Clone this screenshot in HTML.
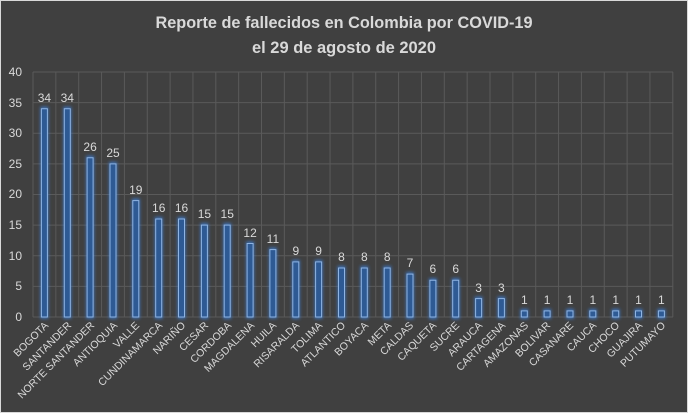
<!DOCTYPE html>
<html><head><meta charset="utf-8"><style>
html,body{margin:0;padding:0;background:#404040;}
svg{display:block;font-family:"Liberation Sans",sans-serif;}
</style></head><body>
<svg width="688" height="413" viewBox="0 0 688 413" xmlns="http://www.w3.org/2000/svg">
<defs><filter id="g" x="-100%" y="-20%" width="300%" height="140%"><feGaussianBlur stdDeviation="1.6"/></filter></defs>
<rect x="0" y="0" width="688" height="413" fill="#404040"/>
<rect x="0.5" y="0.5" width="687" height="412" fill="none" stroke="#d9d9d9" stroke-width="1"/>
<text x="344" y="28" text-anchor="middle" font-size="17" font-weight="bold" fill="#d9d9d9" textLength="377" lengthAdjust="spacingAndGlyphs">Reporte de fallecidos en Colombia por COVID-19</text>
<text x="344" y="53" text-anchor="middle" font-size="17" font-weight="bold" fill="#d9d9d9" textLength="184" lengthAdjust="spacingAndGlyphs">el 29 de agosto de 2020</text>
<g stroke="#5a5a5a" stroke-width="1">
<line x1="33" y1="72" x2="673" y2="72"/><line x1="33" y1="102.6" x2="673" y2="102.6"/><line x1="33" y1="133.25" x2="673" y2="133.25"/><line x1="33" y1="163.9" x2="673" y2="163.9"/><line x1="33" y1="194.5" x2="673" y2="194.5"/><line x1="33" y1="225.1" x2="673" y2="225.1"/><line x1="33" y1="255.75" x2="673" y2="255.75"/><line x1="33" y1="286.4" x2="673" y2="286.4"/><line x1="33" y1="317" x2="673" y2="317"/>
<line x1="33" y1="72" x2="33" y2="317"/><line x1="55.85" y1="72" x2="55.85" y2="317"/><line x1="78.7" y1="72" x2="78.7" y2="317"/><line x1="101.55" y1="72" x2="101.55" y2="317"/><line x1="124.4" y1="72" x2="124.4" y2="317"/><line x1="147.25" y1="72" x2="147.25" y2="317"/><line x1="170.1" y1="72" x2="170.1" y2="317"/><line x1="192.95" y1="72" x2="192.95" y2="317"/><line x1="215.8" y1="72" x2="215.8" y2="317"/><line x1="238.65" y1="72" x2="238.65" y2="317"/><line x1="261.5" y1="72" x2="261.5" y2="317"/><line x1="284.35" y1="72" x2="284.35" y2="317"/><line x1="307.2" y1="72" x2="307.2" y2="317"/><line x1="330.05" y1="72" x2="330.05" y2="317"/><line x1="352.9" y1="72" x2="352.9" y2="317"/><line x1="375.75" y1="72" x2="375.75" y2="317"/><line x1="398.6" y1="72" x2="398.6" y2="317"/><line x1="421.45" y1="72" x2="421.45" y2="317"/><line x1="444.3" y1="72" x2="444.3" y2="317"/><line x1="467.15" y1="72" x2="467.15" y2="317"/><line x1="490" y1="72" x2="490" y2="317"/><line x1="512.85" y1="72" x2="512.85" y2="317"/><line x1="535.7" y1="72" x2="535.7" y2="317"/><line x1="558.55" y1="72" x2="558.55" y2="317"/><line x1="581.4" y1="72" x2="581.4" y2="317"/><line x1="604.25" y1="72" x2="604.25" y2="317"/><line x1="627.1" y1="72" x2="627.1" y2="317"/><line x1="649.95" y1="72" x2="649.95" y2="317"/><line x1="672.8" y1="72" x2="672.8" y2="317"/>
</g>
<g font-size="12" fill="#d9d9d9" text-anchor="end">
<text x="22" y="76">40</text><text x="22" y="107">35</text><text x="22" y="137">30</text><text x="22" y="168">25</text><text x="22" y="198">20</text><text x="22" y="229">15</text><text x="22" y="260">10</text><text x="22" y="290">5</text><text x="22" y="321">0</text>
</g>
<g id="bars" fill="#2e5a94" stroke="#8fb4e3" stroke-width="1">
<g filter="url(#g)" fill="#3d7fd6" stroke="none" opacity="0.8">
<rect x="40.4" y="106.75" width="8" height="212"/><rect x="63.3" y="106.75" width="8" height="212"/><rect x="86.1" y="155.75" width="8" height="163"/><rect x="109" y="161.9" width="8" height="157"/><rect x="131.8" y="198.6" width="8" height="120"/><rect x="154.7" y="217" width="8" height="102"/><rect x="177.5" y="217" width="8" height="102"/><rect x="200.4" y="223.1" width="8" height="96"/><rect x="223.2" y="223.1" width="8" height="96"/><rect x="246.1" y="241.5" width="8" height="77"/><rect x="268.9" y="247.6" width="8" height="71"/><rect x="291.8" y="259.9" width="8" height="59"/><rect x="314.6" y="259.9" width="8" height="59"/><rect x="337.5" y="266" width="8" height="53"/><rect x="360.3" y="266" width="8" height="53"/><rect x="383.2" y="266" width="8" height="53"/><rect x="406" y="272.1" width="8" height="47"/><rect x="428.9" y="278.25" width="8" height="41"/><rect x="451.7" y="278.25" width="8" height="41"/><rect x="474.6" y="296.6" width="8" height="22"/><rect x="497.4" y="296.6" width="8" height="22"/><rect x="520.3" y="308.9" width="8" height="10"/><rect x="543.1" y="308.9" width="8" height="10"/><rect x="566" y="308.9" width="8" height="10"/><rect x="588.8" y="308.9" width="8" height="10"/><rect x="611.7" y="308.9" width="8" height="10"/><rect x="634.5" y="308.9" width="8" height="10"/><rect x="657.4" y="308.9" width="8" height="10"/>
</g>
<rect x="41.4" y="108.75" width="6" height="208.25"/><rect x="64.3" y="108.75" width="6" height="208.25"/><rect x="87.1" y="157.75" width="6" height="159.25"/><rect x="110" y="163.9" width="6" height="153.1"/><rect x="132.8" y="200.6" width="6" height="116.4"/><rect x="155.7" y="219" width="6" height="98"/><rect x="178.5" y="219" width="6" height="98"/><rect x="201.4" y="225.1" width="6" height="91.9"/><rect x="224.2" y="225.1" width="6" height="91.9"/><rect x="247.1" y="243.5" width="6" height="73.5"/><rect x="269.9" y="249.6" width="6" height="67.4"/><rect x="292.8" y="261.9" width="6" height="55.1"/><rect x="315.6" y="261.9" width="6" height="55.1"/><rect x="338.5" y="268" width="6" height="49"/><rect x="361.3" y="268" width="6" height="49"/><rect x="384.2" y="268" width="6" height="49"/><rect x="407" y="274.1" width="6" height="42.9"/><rect x="429.9" y="280.25" width="6" height="36.75"/><rect x="452.7" y="280.25" width="6" height="36.75"/><rect x="475.6" y="298.6" width="6" height="18.4"/><rect x="498.4" y="298.6" width="6" height="18.4"/><rect x="521.3" y="310.9" width="6" height="6.1"/><rect x="544.1" y="310.9" width="6" height="6.1"/><rect x="567" y="310.9" width="6" height="6.1"/><rect x="589.8" y="310.9" width="6" height="6.1"/><rect x="612.7" y="310.9" width="6" height="6.1"/><rect x="635.5" y="310.9" width="6" height="6.1"/><rect x="658.4" y="310.9" width="6" height="6.1"/>
</g>
<g font-size="12" fill="#d9d9d9" text-anchor="middle">
<text x="44.4" y="102">34</text><text x="67.3" y="102">34</text><text x="90.1" y="151">26</text><text x="113" y="157">25</text><text x="135.8" y="194">19</text><text x="158.7" y="212">16</text><text x="181.5" y="212">16</text><text x="204.4" y="218">15</text><text x="227.2" y="218">15</text><text x="250.1" y="237">12</text><text x="272.9" y="243">11</text><text x="295.8" y="255">9</text><text x="318.6" y="255">9</text><text x="341.5" y="261">8</text><text x="364.3" y="261">8</text><text x="387.2" y="261">8</text><text x="410" y="267">7</text><text x="432.9" y="273">6</text><text x="455.7" y="273">6</text><text x="478.6" y="292">3</text><text x="501.4" y="292">3</text><text x="524.3" y="304">1</text><text x="547.1" y="304">1</text><text x="570" y="304">1</text><text x="592.8" y="304">1</text><text x="615.7" y="304">1</text><text x="638.5" y="304">1</text><text x="661.4" y="304">1</text>
</g>
<g font-size="10.5" fill="#d9d9d9" text-anchor="end">
<text transform="translate(49,326) rotate(-45)">BOGOTA</text>
<text transform="translate(72,326) rotate(-45)">SANTANDER</text>
<text transform="translate(95,326) rotate(-45)">NORTE SANTANDER</text>
<text transform="translate(118,326) rotate(-45)">ANTIOQUIA</text>
<text transform="translate(140,326) rotate(-45)">VALLE</text>
<text transform="translate(163,326) rotate(-45)">CUNDINAMARCA</text>
<text transform="translate(186,326) rotate(-45)">NARIÑO</text>
<text transform="translate(209,326) rotate(-45)">CESAR</text>
<text transform="translate(232,326) rotate(-45)">CORDOBA</text>
<text transform="translate(255,326) rotate(-45)">MAGDALENA</text>
<text transform="translate(277,326) rotate(-45)">HUILA</text>
<text transform="translate(300,326) rotate(-45)">RISARALDA</text>
<text transform="translate(323,326) rotate(-45)">TOLIMA</text>
<text transform="translate(346,326) rotate(-45)">ATLANTICO</text>
<text transform="translate(369,326) rotate(-45)">BOYACA</text>
<text transform="translate(392,326) rotate(-45)">META</text>
<text transform="translate(414,326) rotate(-45)">CALDAS</text>
<text transform="translate(437,326) rotate(-45)">CAQUETA</text>
<text transform="translate(460,326) rotate(-45)">SUCRE</text>
<text transform="translate(483,326) rotate(-45)">ARAUCA</text>
<text transform="translate(506,326) rotate(-45)">CARTAGENA</text>
<text transform="translate(529,326) rotate(-45)">AMAZONAS</text>
<text transform="translate(551,326) rotate(-45)">BOLIVAR</text>
<text transform="translate(574,326) rotate(-45)">CASANARE</text>
<text transform="translate(597,326) rotate(-45)">CAUCA</text>
<text transform="translate(620,326) rotate(-45)">CHOCO</text>
<text transform="translate(643,326) rotate(-45)">GUAJIRA</text>
<text transform="translate(666,326) rotate(-45)">PUTUMAYO</text>
</g>
</svg>
</body></html>
